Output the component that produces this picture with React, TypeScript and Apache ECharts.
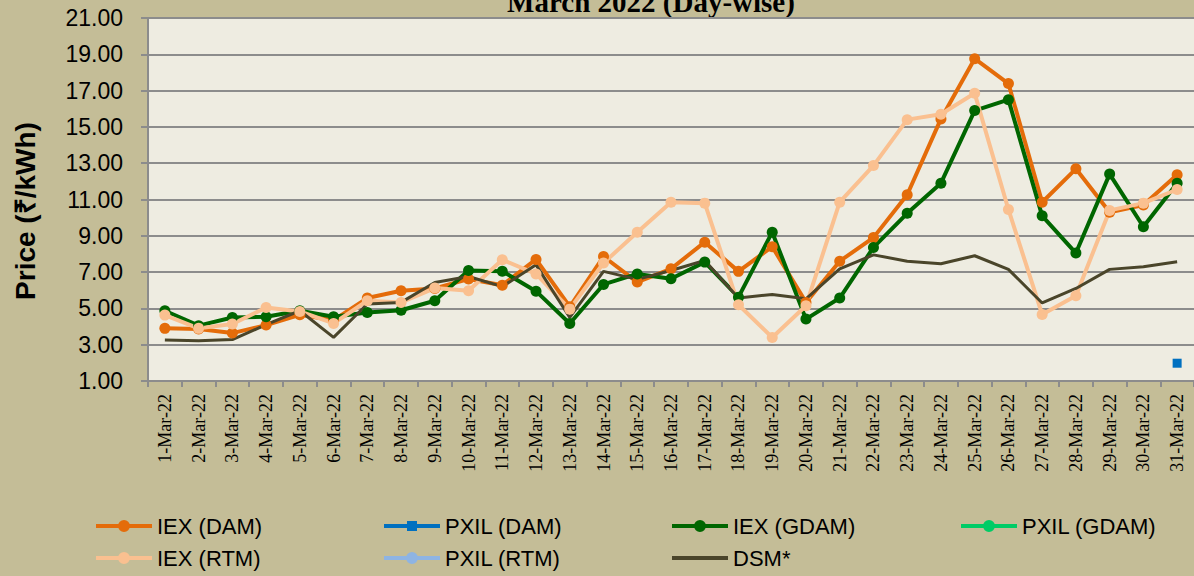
import React, { useEffect, useRef } from "react";
import * as echarts from "echarts";

const categories = [
  "1-Mar-22", "2-Mar-22", "3-Mar-22", "4-Mar-22", "5-Mar-22", "6-Mar-22", "7-Mar-22", "8-Mar-22",
  "9-Mar-22", "10-Mar-22", "11-Mar-22", "12-Mar-22", "13-Mar-22", "14-Mar-22", "15-Mar-22", "16-Mar-22",
  "17-Mar-22", "18-Mar-22", "19-Mar-22", "20-Mar-22", "21-Mar-22", "22-Mar-22", "23-Mar-22", "24-Mar-22",
  "25-Mar-22", "26-Mar-22", "27-Mar-22", "28-Mar-22", "29-Mar-22", "30-Mar-22", "31-Mar-22",
];

const iexDam = [
  3.9, 3.86, 3.64, 4.08, 4.65, 4.35, 5.57, 5.97, 6.1, 6.62, 6.28, 7.7, 5.09, 7.86, 6.45, 7.18,
  8.65, 7.04, 8.4, 5.33, 7.6, 8.9, 11.26, 15.44, 18.76, 17.39, 10.85, 12.69, 10.3, 10.7, 12.36,
];

const pxilDam: (number | null)[] = [
  null, null, null, null, null, null, null, null, null, null, null, null, null, null, null, null,
  null, null, null, null, null, null, null, null, null, null, null, null, null, null, 1.98,
];

const iexGdam = [
  4.87, 4.05, 4.5, 4.54, 4.87, 4.54, 4.78, 4.9, 5.42, 7.09, 7.05, 5.95, 4.17, 6.32, 6.9, 6.63,
  7.55, 5.62, 9.2, 4.41, 5.57, 8.36, 10.24, 11.9, 15.9, 16.5, 10.1, 8.05, 12.4, 9.5, 11.9,
];

const pxilGdam: (number | null)[] = [];

const iexRtm = [
  4.63, 3.9, 4.14, 5.05, 4.83, 4.17, 5.42, 5.33, 6.12, 5.97, 7.68, 6.9, 4.96, 7.5, 9.2, 10.85,
  10.8, 5.2, 3.4, 5.15, 10.85, 12.87, 15.4, 15.7, 16.85, 10.45, 4.67, 5.7, 10.4, 10.8, 11.55,
];

const pxilRtm: (number | null)[] = [];

const dsm = [
  3.26, 3.22, 3.28, 4.1, 4.87, 3.4, 5.24, 5.33, 6.43, 6.76, 6.2, 7.4, 4.5, 7.04, 6.6, 7.09,
  7.64, 5.57, 5.77, 5.53, 7.18, 7.95, 7.6, 7.46, 7.9, 7.15, 5.3, 6.1, 7.15, 7.3, 7.57,
];

const seriesNames = ["IEX (DAM)", "PXIL (DAM)", "IEX (GDAM)", "PXIL (GDAM)", "IEX (RTM)", "PXIL (RTM)", "DSM*"];

const ICON_CIRCLE = "path://M0,4H56V8H0Z M22,6A6,6 0 1,1 34,6A6,6 0 1,1 22,6Z";
const ICON_SQUARE = "path://M0,4H56V8H0Z M23,1H33V11H23Z M0,0.001H0.001V0.002H0Z M0,11.998H0.001V12H0Z";
const ICON_LINE = "path://M0,4H56V8H0Z M0,0.001H0.001V0.002H0Z M0,11.998H0.001V12H0Z";

export default function App() {
  const ref = useRef<HTMLDivElement>(null);

  useEffect(() => {
    if (!ref.current) return;
    const chart = echarts.init(ref.current, null, { renderer: "svg" });

    const lineSeries = (name: string, data: (number | null)[], color: string, opts: any = {}) => ({
      name,
      type: "line",
      data,
      symbol: "circle",
      symbolSize: 11,
      showSymbol: true,
      lineStyle: { color, width: 4 },
      itemStyle: { color },
      connectNulls: false,
      ...opts,
    });

    const legendPos = [
      { left: 96, top: 515, icon: ICON_CIRCLE },
      { left: 384, top: 515, icon: ICON_SQUARE },
      { left: 672, top: 515, icon: ICON_CIRCLE },
      { left: 961, top: 515, icon: ICON_CIRCLE },
      { left: 96, top: 547, icon: ICON_CIRCLE },
      { left: 384, top: 547, icon: ICON_CIRCLE },
      { left: 672, top: 547, icon: ICON_LINE },
    ];

    chart.setOption({
      animation: false,
      backgroundColor: "#C4BD97",
      grid: {
        left: 148,
        top: 18,
        width: 1048,
        height: 363,
        show: true,
        backgroundColor: "#EEECE1",
        borderWidth: 0,
      },
      legend: seriesNames.map((n, i) => ({
        data: [{ name: n, icon: legendPos[i].icon }],
        left: legendPos[i].left,
        top: legendPos[i].top,
        padding: 0,
        itemWidth: 56,
        itemHeight: 12,
        itemGap: 0,
        selectedMode: false,
        textStyle: { fontFamily: "Liberation Sans", fontSize: 22, color: "#000" },
      })),
      xAxis: {
        type: "category",
        data: categories,
        boundaryGap: true,
        axisLine: { show: true, lineStyle: { color: "#8c8c8c", width: 2 } },
        axisTick: { show: true, interval: 0, length: 6, lineStyle: { color: "#8c8c8c", width: 2 } },
        axisLabel: {
          interval: 0,
          rotate: 90,
          margin: 13,
          fontFamily: "Liberation Serif",
          fontSize: 18,
          color: "#000",
        },
      },
      yAxis: {
        type: "value",
        min: 1,
        max: 21,
        interval: 2,
        axisLine: { show: true, lineStyle: { color: "#8c8c8c", width: 2 } },
        axisTick: { show: true, length: 7, lineStyle: { color: "#8c8c8c", width: 2 } },
        splitLine: { show: true, lineStyle: { color: "#8c8c8c", width: 2 } },
        axisLabel: {
          formatter: (v: number) => v.toFixed(2),
          margin: 25,
          fontFamily: "Liberation Sans",
          fontSize: 23,
          color: "#000",
        },
      },
      graphic: [
        {
          type: "text",
          x: 651,
          y: 16,
          style: {
            text: "March 2022 (Day-wise)",
            fontFamily: "Liberation Serif",
            fontWeight: "bold",
            fontSize: 29,
            fill: "#000",
            align: "center",
            verticalAlign: "bottom",
          },
        },
        {
          type: "text",
          x: 25,
          y: 211,
          rotation: Math.PI / 2,
          style: {
            text: "Price (₹/kWh)",
            fontFamily: "Liberation Sans",
            fontWeight: "bold",
            fontSize: 28,
            fill: "#000",
            align: "center",
            verticalAlign: "middle",
          },
        },
      ],
      series: [
        lineSeries("IEX (DAM)", iexDam, "#E46C0A"),
        lineSeries("PXIL (DAM)", pxilDam, "#0070C0", { symbol: "rect", symbolSize: 9 }),
        lineSeries("IEX (GDAM)", iexGdam, "#006600"),
        lineSeries("PXIL (GDAM)", pxilGdam, "#00CC66"),
        lineSeries("IEX (RTM)", iexRtm, "#FAC090"),
        lineSeries("PXIL (RTM)", pxilRtm, "#8EB4E3"),
        {
          name: "DSM*",
          type: "line",
          data: dsm,
          symbol: "none",
          lineStyle: { color: "#4A452A", width: 3 },
          itemStyle: { color: "#4A452A" },
        },
      ],
    });

    return () => chart.dispose();
  }, []);

  return (
    <div
      ref={ref}
      style={{ position: "fixed", left: 0, top: 0, width: 1194, height: 576, background: "#C4BD97" }}
    />
  );
}
